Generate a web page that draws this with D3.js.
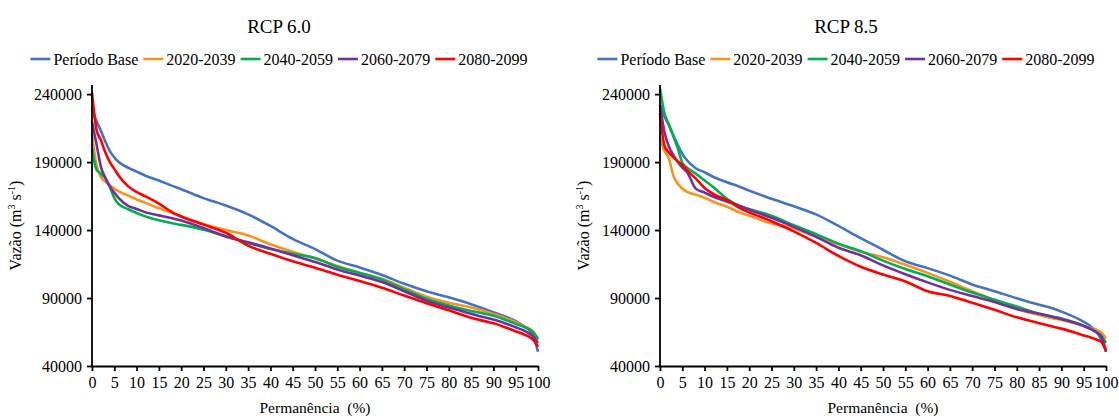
<!DOCTYPE html>
<html>
<head>
<meta charset="utf-8">
<script src="https://cdn.jsdelivr.net/npm/d3@7"></script>
<style>
  body { margin: 0; background: #fff; }
  svg text { font-family: "Liberation Serif", "DejaVu Serif", serif; fill: #000; }
  .axis path, .axis line { stroke: #000; stroke-width: 1.8; }
  .axis text { font-size: 16px; }
  .serie { fill: none; stroke-width: 2.6; stroke-linejoin: round; }
</style>
</head>
<body>
<svg width="1119" height="416"></svg>
<script>
  // permanencia (%)
  var percent = [0, 1, 2, 3, 4, 5, 6, 8, 10, 12, 15, 18, 20, 25, 30, 35, 40, 45, 50,
                 55, 60, 65, 70, 75, 80, 85, 88, 90, 95, 97, 98, 99, 100];

  var seriesNames = ['Período Base', '2020-2039', '2040-2059', '2060-2079', '2080-2099'];
  var seriesColors = ['#4472C4', '#F7931E', '#00B050', '#7030A0', '#FF0000'];
  var yTicks = [40000, 90000, 140000, 190000, 240000];
  var xTicks = d3.range(0, 101, 5);

  // RCP 6.0
  var rcp60Base = [230000, 220000, 213000, 205000, 198000, 193500, 190000, 186000, 183000, 180000, 176500,
    172500, 170000, 163500, 158000, 151500, 143000, 133500, 126000, 117500, 112500, 107000, 100500,
    95000, 90500, 85500, 82000, 79500, 73000, 69000, 66500, 61500, 50500];
  var rcp60_2020 = [211000, 188000, 179000, 175500, 173000, 170500, 168500, 165500, 162500, 160000, 156000,
    152500, 150000, 144500, 140000, 136000, 129500, 124000, 119000, 113500, 108500, 104200, 97500,
    91000, 86500, 83000, 80300, 78200, 72200, 69000, 67500, 65000, 59000];
  var rcp60_2040 = [200000, 184500, 181500, 178000, 171800, 163500, 159000, 155500, 152500, 150000, 147200,
    145000, 143800, 140300, 135500, 130500, 126000, 122500, 119500, 113000, 108500, 103500, 96500,
    89500, 84500, 80500, 78500, 77000, 71000, 68500, 67000, 64500, 60000];
  var rcp60_2060 = [219500, 203500, 186500, 178500, 172000, 167500, 163500, 158000, 155500, 153000, 150800,
    148700, 147000, 141500, 135200, 131000, 126500, 121500, 116500, 111000, 106500, 101800, 95000,
    88000, 83000, 78500, 75800, 74200, 68500, 65800, 64000, 61500, 57000];
  var rcp60_2080 = [241000, 214000, 206000, 197000, 190000, 185000, 180000, 172500, 168000, 164800, 159500,
    153000, 150000, 144000, 138000, 128500, 122500, 117000, 112300, 107200, 102500, 97500, 91800,
    86200, 81000, 75500, 73000, 71500, 65500, 63000, 61500, 59000, 54000];

  // RCP 8.5
  var rcp85Base = [232000, 223500, 217000, 209500, 202500, 196000, 191500, 185500, 182500, 179000, 175200,
    171700, 169000, 163000, 157500, 151500, 143000, 134000, 125500, 117000, 112000, 106500, 100000,
    95000, 89800, 85000, 82500, 80000, 72500, 68000, 64500, 59000, 50500];
  var rcp85_2020 = [208000, 198000, 192500, 180000, 174000, 170500, 168200, 166000, 163700, 160800, 157100,
    152800, 150500, 144800, 141200, 135000, 129500, 124000, 120000, 114500, 108500, 102000, 95000,
    88500, 82000, 77600, 75200, 73800, 69500, 67500, 66500, 64500, 60300];
  var rcp85_2040 = [244000, 226000, 217500, 209000, 200000, 189500, 186000, 181500, 176500, 171500, 163000,
    157500, 155500, 150500, 143500, 137000, 130000, 124500, 117500, 111300, 106000, 100000, 94000,
    88800, 83700, 78500, 76300, 75000, 69500, 66500, 64500, 62000, 57000];
  var rcp85_2060 = [232000, 212000, 201500, 195000, 190000, 186000, 182900, 170500, 167500, 164500, 161000,
    157500, 155000, 149000, 142300, 135000, 127000, 121500, 114000, 107500, 101500, 96000, 91500,
    87000, 82000, 78500, 76300, 74500, 69500, 66500, 64500, 61500, 50500];
  var rcp85_2080 = [225800, 202000, 197000, 193500, 190500, 188000, 184000, 178000, 171000, 166500, 162000,
    156000, 153000, 146500, 139000, 130500, 121000, 113000, 107300, 102200, 95000, 91500, 86500,
    81300, 75800, 71500, 69000, 67500, 62500, 60500, 59300, 57500, 51600];

  (function() {
    var svg = d3.select('svg');

    var panels = [
      { title: 'RCP 6.0', left: 92, right: 538, center: 279, ytitleX: 21,
        series: [rcp60Base, rcp60_2020, rcp60_2040, rcp60_2060, rcp60_2080] },
      { title: 'RCP 8.5', left: 660, right: 1106, center: 846, ytitleX: 589,
        series: [rcp85Base, rcp85_2020, rcp85_2040, rcp85_2060, rcp85_2080] }
    ];

    var plotTop = 85, plotBottom = 366;

    panels.forEach(function(p) {
      var g = svg.append('g');

      var x = d3.scaleLinear().domain([0, 100]).range([p.left, p.right]);
      var y = d3.scaleLinear().domain([40000, 246700]).range([plotBottom, plotTop]);

      // title
      g.append('text')
        .attr('x', p.center).attr('y', 33)
        .attr('text-anchor', 'middle')
        .style('font-size', '19px')
        .text(p.title);

      // legend
      var legend = g.append('g');
      var lx = 0;
      seriesNames.forEach(function(name, i) {
        var item = legend.append('g').attr('transform', 'translate(' + lx + ',0)');
        item.append('line')
          .attr('x1', 0).attr('x2', 20).attr('y1', 0).attr('y2', 0)
          .attr('stroke', seriesColors[i]).attr('stroke-width', 2.6);
        var t = item.append('text')
          .attr('x', 23).attr('y', 5.5)
          .style('font-size', '16px')
          .text(name);
        lx += 23 + t.node().getComputedTextLength() + 5;
      });
      var lw = lx - 5;
      legend.attr('transform', 'translate(' + (p.center - lw / 2) + ',59)');

      // lines
      var line = d3.line()
        .x(function(d, i) { return x(percent[i]); })
        .y(function(d) { return y(d); })
        .curve(d3.curveMonotoneX);

      p.series.forEach(function(values, i) {
        g.append('path')
          .datum(values)
          .attr('class', 'serie')
          .attr('stroke', seriesColors[i])
          .attr('d', line);
      });

      // axes
      var yAxis = g.append('g').attr('class', 'axis')
        .attr('transform', 'translate(' + p.left + ',0)')
        .call(d3.axisLeft(y).tickValues(yTicks).tickSize(5).tickPadding(5).tickFormat(d3.format('d')));
      yAxis.select('.domain').attr('d', 'M0,' + plotTop + 'V' + plotBottom);

      var xAxis = g.append('g').attr('class', 'axis')
        .attr('transform', 'translate(0,' + plotBottom + ')')
        .call(d3.axisBottom(x).tickValues(xTicks).tickSize(5).tickPadding(6).tickSizeOuter(0));
      xAxis.selectAll('text').attr('dy', '0.71em');
      svg.selectAll('.axis').attr('font-family', null).attr('font-size', null);

      // axis titles
      g.append('text')
        .attr('x', (p.left + p.right) / 2).attr('y', 413)
        .attr('text-anchor', 'middle')
        .style('font-size', '15.5px')
        .attr('xml:space', 'preserve')
        .text('Permanência  (%)');

      var yt = g.append('text')
        .attr('transform', 'translate(' + p.ytitleX + ',' + ((plotTop + plotBottom) / 2) + ') rotate(-90)')
        .attr('text-anchor', 'middle')
        .style('font-size', '16px');
      yt.append('tspan').text('Vazão (m');
      yt.append('tspan').attr('dy', -6).style('font-size', '10px').text('3');
      yt.append('tspan').attr('dy', 6).text(' s');
      yt.append('tspan').attr('dy', -6).style('font-size', '10px').text('-1');
      yt.append('tspan').attr('dy', 6).text(')');
    });
  })();
</script>
</body>
</html>
